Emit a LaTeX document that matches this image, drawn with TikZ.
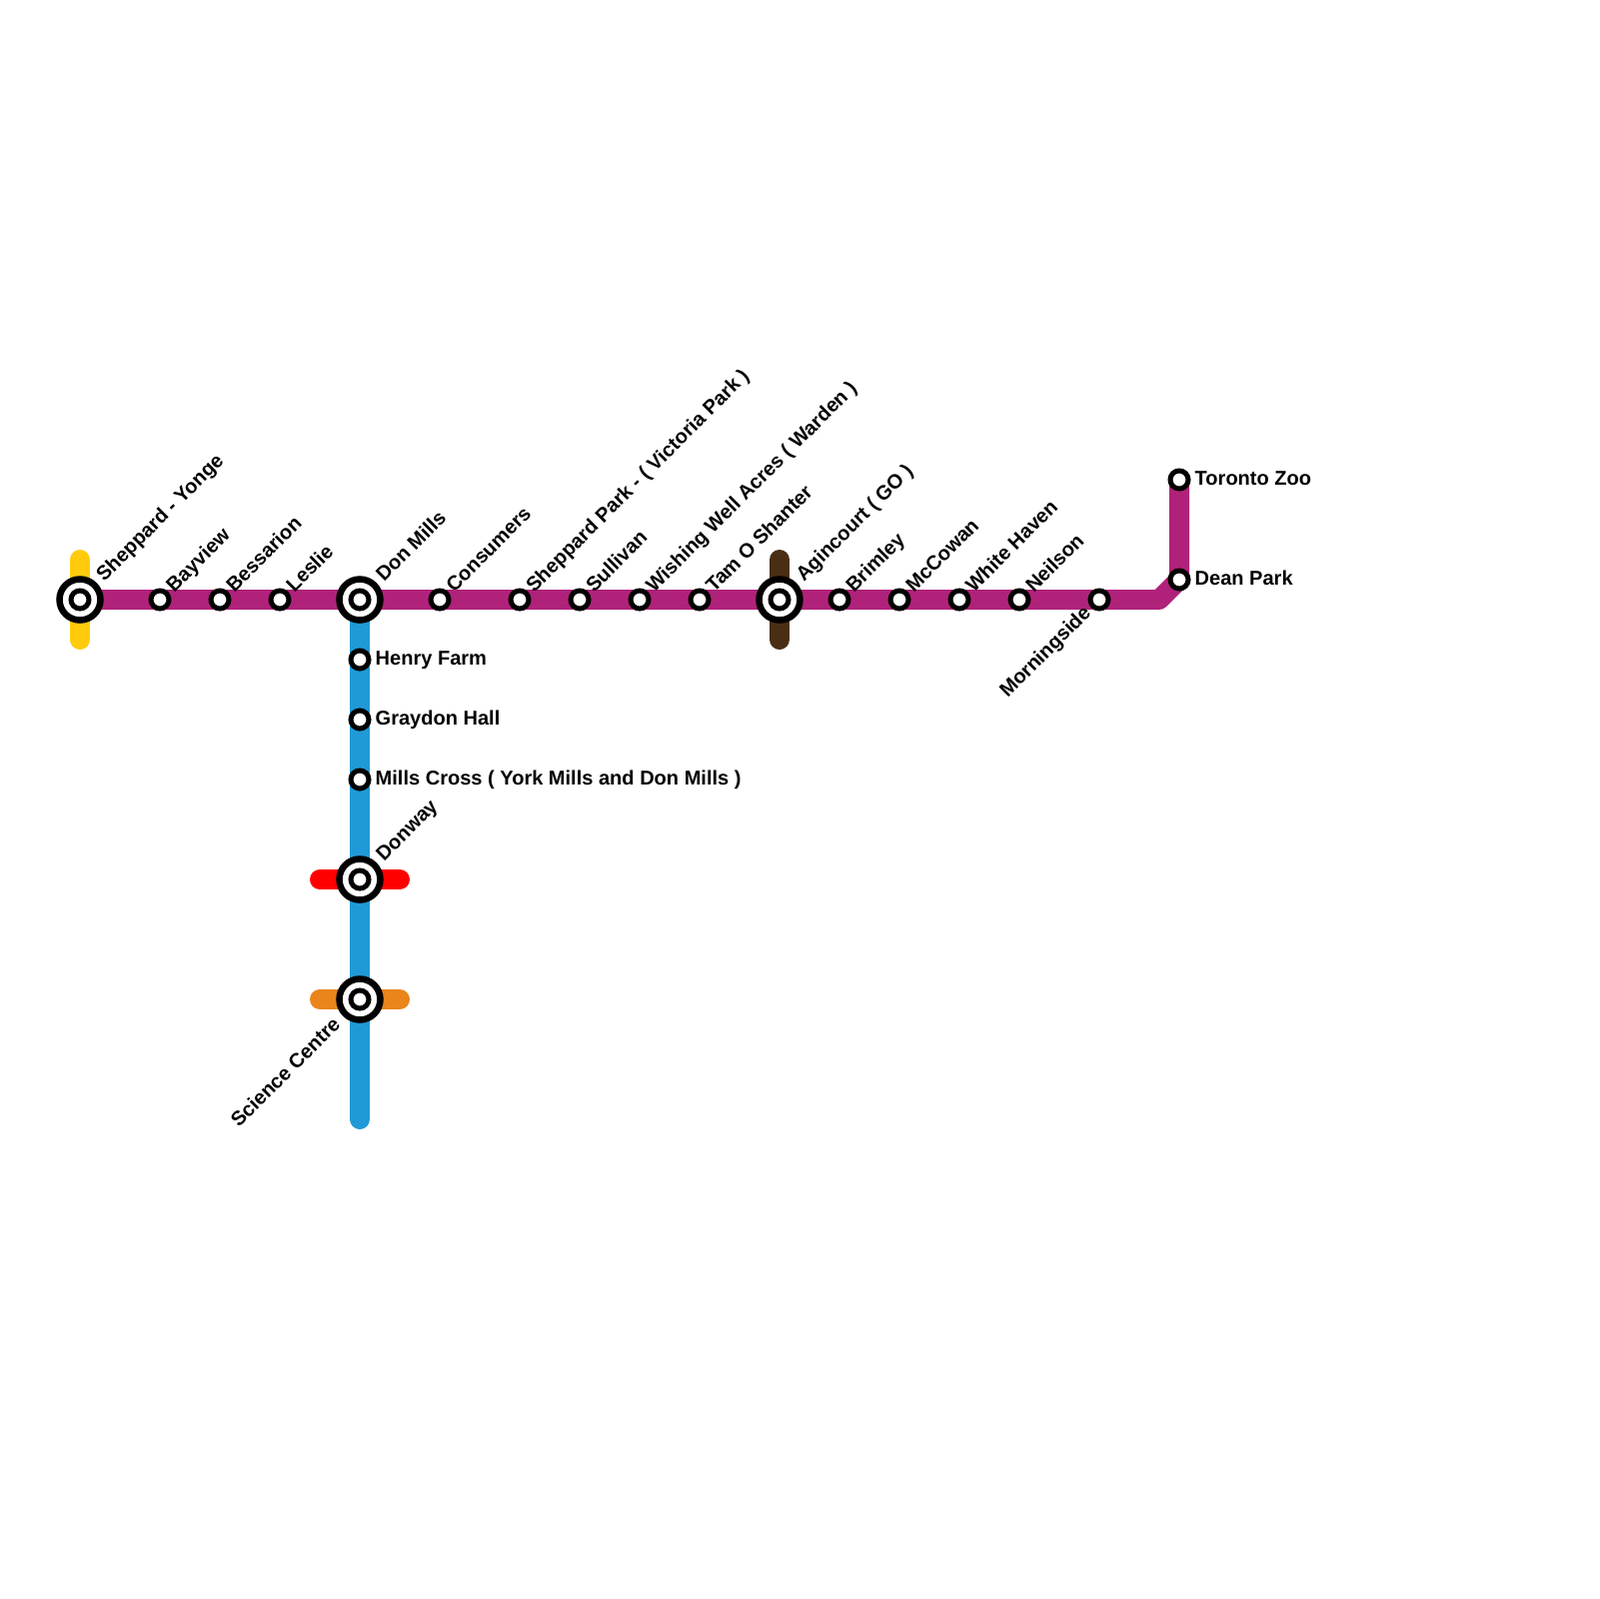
\documentclass[tikz,border=0pt]{standalone}
\usepackage{fontspec}
\setmainfont{Liberation Sans}
\usetikzlibrary{backgrounds}
\definecolor{lnpurple}{HTML}{B0227A}
\definecolor{lnblue}{HTML}{1F9AD7}
\definecolor{lnyellow}{HTML}{FFCB0C}
\definecolor{lnred}{HTML}{FF0000}
\definecolor{lnorange}{HTML}{E9851A}
\definecolor{lnbrown}{HTML}{4A2E14}
\tikzset{
  stn/.style={circle, draw=black, fill=white, line width=.5mm, minimum size=1.8mm, inner sep=0pt, outer sep=0pt},
  hub/.style={circle, draw=black, fill=white, line width=.65mm, minimum size=4.1mm, inner sep=0pt, outer sep=0pt},
  nm/.style={font=\fontsize{5.7}{6}\selectfont\bfseries, inner sep=0pt, text=black},
  upnm/.style={nm, rotate=45, anchor=base west},
  dnnm/.style={nm, rotate=45, anchor=base east},
  sidenm/.style={nm, anchor=base west},
  route/.style={line width=2mm, line cap=round, line join=round},
}
\begin{document}
\begin{tikzpicture}[x=.1mm, y=-.1mm]
  \useasboundingbox (0,0) rectangle (1600,1600);
  % hubs
  \foreach \id/\x/\y/\name in {yonge/80/600/{Sheppard - Yonge}, donmills/360/600/{Don Mills},
      agincourt/780/600/{Agincourt ( GO )}, donway/360/880/{Donway}} {
    \node[hub] (\id) at (\x,\y) {};
    \node[stn] (\id-in) at (\x,\y) {};
    \node[upnm] (\id-nm) at (\x+24,\y-17) {\name};
  }
  \node[hub] (science) at (360,1000) {};
  \node[stn] (science-in) at (360,1000) {};
  \node[dnnm] (science-nm) at (342,1026) {Science Centre};
  % main line stops
  \foreach \id/\x/\name in {bayview/160/Bayview, bessarion/220/Bessarion, leslie/280/Leslie,
      consumers/440/Consumers, vicpark/520/{Sheppard Park - ( Victoria Park )}, sullivan/580/Sullivan,
      wishing/640/{Wishing Well Acres ( Warden )}, tam/700/{Tam O Shanter}, brimley/840/Brimley,
      mccowan/900/McCowan, whitehaven/960/{White Haven}, neilson/1020/Neilson} {
    \node[stn] (\id) at (\x,600) {};
    \node[upnm] (\id-nm) at (\x+14,594) {\name};
  }
  \node[stn] (morningside) at (1100,600) {};
  \node[dnnm] (morningside-nm) at (1093,614) {Morningside};
  \coordinate (bend) at (1160,600);
  % side labels
  \foreach \id/\x/\y/\name in {henry/360/660/{Henry Farm}, graydon/360/720/{Graydon Hall},
      millscross/360/780/{Mills Cross ( York Mills and Don Mills )},
      dean/1180/580/{Dean Park}, zoo/1180/480/{Toronto Zoo}} {
    \node[stn] (\id) at (\x,\y) {};
    \node[sidenm] (\id-nm) at (\x+15,\y+5) {\name};
  }
  % ends of the short lines
  \coordinate (yellowa) at (80,560); \coordinate (yellowb) at (80,640);
  \coordinate (browna) at (780,560); \coordinate (brownb) at (780,640);
  \coordinate (reda) at (320,880); \coordinate (redb) at (400,880);
  \coordinate (orangea) at (320,1000); \coordinate (orangeb) at (400,1000);
  \coordinate (blueend) at (360,1120);
  \begin{scope}[on background layer]
    \draw[route, lnyellow] (yellowa) -- (yellowb);
    \draw[route, lnbrown] (browna) -- (brownb);
    \draw[route, lnred] (reda) -- (redb);
    \draw[route, lnorange] (orangea) -- (orangeb);
    \draw[route, lnblue] (donmills.center) -- (blueend);
    \draw[route, lnpurple] (yonge.center) -- (morningside.center) -- (bend) -- (dean.center) -- (zoo.center);
  \end{scope}
\end{tikzpicture}
\end{document}
